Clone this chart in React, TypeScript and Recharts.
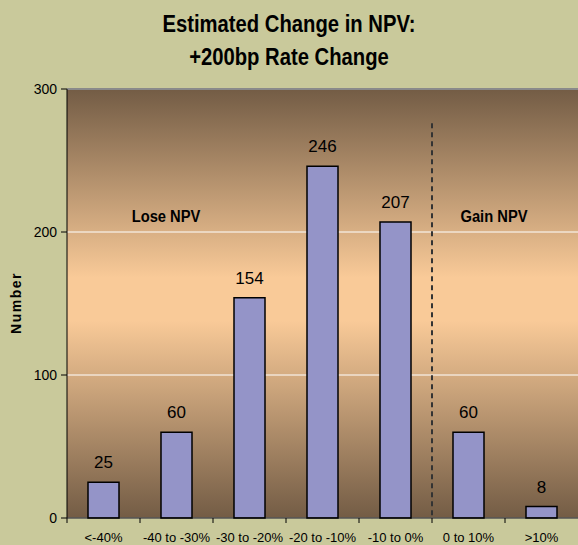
import React from "react";
import {
  BarChart,
  Bar,
  XAxis,
  YAxis,
  CartesianGrid,
  ReferenceLine,
  LabelList,
} from "recharts";

const categories = [
  "<-40%",
  "-40 to -30%",
  "-30 to -20%",
  "-20 to -10%",
  "-10 to 0%",
  "0 to 10%",
  ">10%",
];
const counts = [25, 60, 154, 246, 207, 60, 8];
const yTicks = [0, 100, 200, 300];

const data = categories.map((name, i) => ({ name, value: counts[i] }));

const W = 578;
const H = 545;
const BAND = (W - 67) / categories.length;

const sans = "'Liberation Sans', Arial, sans-serif";

function XTick(props: any) {
  const { x, y, payload } = props;
  return (
    <g>
      <line x1={x - BAND / 2} x2={x - BAND / 2} y1={y - 8} y2={y - 3} stroke="#000" />
      <text x={x} y={y + 16} textAnchor="middle" fontSize={13} fontFamily={sans} fill="#000">
        {payload.value}
      </text>
    </g>
  );
}

const narrowText: React.CSSProperties = {
  position: "absolute",
  left: 0,
  width: W,
  textAlign: "center",
  fontFamily: sans,
  fontWeight: "bold",
  color: "#000",
  transform: "scaleX(0.88)",
  transformOrigin: "289px 0",
};

export default function App() {
  return (
    <div
      style={{
        position: "absolute",
        left: 0,
        top: 0,
        width: W,
        height: H,
        background: "#C9C99B",
        overflow: "hidden",
      }}
    >
      <div style={{ ...narrowText, top: 8, fontSize: 23, lineHeight: "33px" }}>
        Estimated Change in NPV:
        <br />
        +200bp Rate Change
      </div>
      <BarChart
        width={W}
        height={H}
        data={data}
        margin={{ top: 89, right: 0, bottom: 0, left: 0 }}
        barSize={31}
      >
        <defs>
          <linearGradient id="plotBg" x1="0" y1="0" x2="0" y2="1">
            <stop offset="0%" stopColor="#735C45" />
            <stop offset="44%" stopColor="#F9CA98" />
            <stop offset="54%" stopColor="#F9CA98" />
            <stop offset="100%" stopColor="#735C45" />
          </linearGradient>
        </defs>
        <CartesianGrid
          vertical={false}
          stroke="#FFFFFF"
          strokeWidth={1}
          fill="url(#plotBg)"
          fillOpacity={1}
        />
        <ReferenceLine y={300} stroke="#8A8A8A" strokeWidth={2} />
        <XAxis
          dataKey="name"
          height={27}
          interval={0}
          tickLine={false}
          tickSize={6}
          tickMargin={2}
          axisLine={{ stroke: "#000" }}
          tick={<XTick />}
        />
        <YAxis
          width={67}
          domain={[0, 300]}
          ticks={yTicks}
          interval={0}
          tickSize={6}
          tickMargin={4}
          axisLine={{ stroke: "#000" }}
          tickLine={{ stroke: "#000" }}
          tick={{ fill: "#000", fontSize: 14, fontFamily: sans }}
        />
        <ReferenceLine
          segment={[
            { x: "0 to 10%", y: 276 },
            { x: "0 to 10%", y: 0 },
          ]}
          position="start"
          stroke="#333"
          strokeWidth={2}
          strokeDasharray="5 4"
        />
        <Bar
          dataKey="value"
          fill="#9494C8"
          stroke="#000"
          strokeWidth={1.5}
          isAnimationActive={false}
        >
          <LabelList
            dataKey="value"
            position="top"
            offset={14}
            fontSize={17}
            fontFamily={sans}
            fill="#000"
          />
        </Bar>
      </BarChart>
      <div
        style={{
          position: "absolute",
          left: 116,
          top: 208,
          width: 100,
          textAlign: "center",
          fontFamily: sans,
          fontWeight: "bold",
          fontSize: 16,
          transform: "scaleX(0.92)",
          color: "#000",
        }}
      >
        Lose NPV
      </div>
      <div
        style={{
          position: "absolute",
          left: 444,
          top: 208,
          width: 100,
          textAlign: "center",
          fontFamily: sans,
          fontWeight: "bold",
          fontSize: 16,
          transform: "scaleX(0.92)",
          color: "#000",
        }}
      >
        Gain NPV
      </div>
      <div
        style={{
          position: "absolute",
          left: 16 - 50,
          top: 303 - 9,
          width: 100,
          height: 18,
          lineHeight: "18px",
          textAlign: "center",
          transform: "rotate(-90deg)",
          fontFamily: sans,
          fontWeight: "bold",
          fontSize: 14,
          letterSpacing: 1.5,
          color: "#000",
        }}
      >
        Number
      </div>
    </div>
  );
}
